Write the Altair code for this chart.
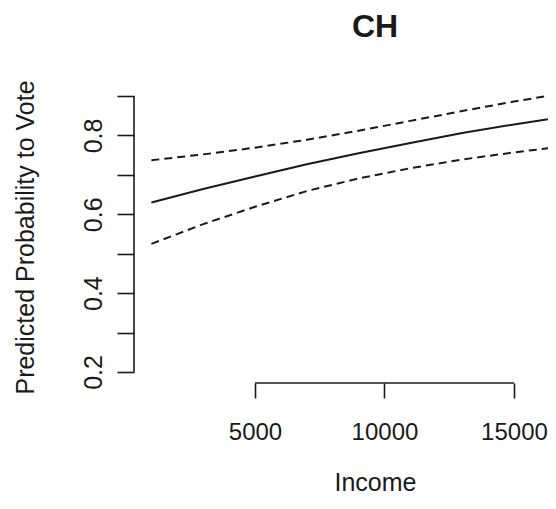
import altair as alt
import pandas as pd

# Values
income = [1000, 3000, 5000, 7000, 9000, 11000, 13000, 15000, 17000, 18000]
fit = [0.630, 0.664, 0.696, 0.727, 0.755, 0.781, 0.806, 0.828, 0.848, 0.857]
upper = [0.737, 0.752, 0.769, 0.789, 0.812, 0.837, 0.862, 0.886, 0.908, 0.918]
lower = [0.525, 0.575, 0.619, 0.659, 0.691, 0.717, 0.739, 0.757, 0.773, 0.780]

x_ticks = [5000, 10000, 15000]
y_ticks = [0.2, 0.3, 0.4, 0.5, 0.6, 0.7, 0.8, 0.9]
y_labels = ["0.2", "0.4", "0.6", "0.8"]
x_domain = [328, 16313]
y_domain = [0.172, 0.928]
title_text = ["CH"]

W, H = 414, 298
FONT = "Liberation Sans"
INK = "#1a1a1a"

fit_df = pd.DataFrame({"income": income, "p": fit})
band_df = pd.concat([
    pd.DataFrame({"income": income, "p": upper, "series": "upper"}),
    pd.DataFrame({"income": income, "p": lower, "series": "lower"}),
])

x_scale = alt.Scale(domain=x_domain, nice=False, zero=False)
y_scale = alt.Scale(domain=y_domain, nice=False, zero=False)

label_test = " || ".join(f"datum.label == '{l}'" for l in y_labels)

x_axis = alt.Axis(
    values=x_ticks, format="d", grid=False, domain=False,
    tickSize=15, tickWidth=1.6, tickColor=INK,
    labelFont=FONT, labelFontSize=24, labelColor=INK, labelPadding=41,
    labelBaseline="alphabetic", labelAngle=0, labelFlush=False, labelOverlap=False,
    title="Income", titleFont=FONT, titleFontSize=25, titleFontWeight="normal",
    titleColor=INK, titleX=241, titleY=107, titleBaseline="alphabetic", titleAlign="center",
)
y_axis = alt.Axis(
    values=y_ticks, format=".1f", grid=False, domain=False,
    labelExpr=f"({label_test}) ? datum.label : ''",
    tickSize=17, tickWidth=1.6, tickColor=INK,
    labelFont=FONT, labelFontSize=25, labelColor=INK, labelPadding=16,
    labelAngle=270, labelAlign="center", labelBaseline="alphabetic", labelOverlap=False,
    labelFlush=False,
    title="Predicted Probability to Vote", titleFont=FONT, titleFontSize=25,
    titleFontWeight="normal", titleColor=INK, titleAngle=270, titleX=-101, titleY=152,
    titleBaseline="alphabetic", titleAlign="center",
)

fit_line = alt.Chart(fit_df).mark_line(clip=True, color=INK, strokeWidth=2).encode(
    x=alt.X("income:Q", scale=x_scale, axis=x_axis),
    y=alt.Y("p:Q", scale=y_scale, axis=y_axis),
)
band_lines = alt.Chart(band_df).mark_line(
    clip=True, color=INK, strokeWidth=2, strokeDash=[8, 5]
).encode(
    x=alt.X("income:Q", scale=x_scale, axis=x_axis),
    y=alt.Y("p:Q", scale=y_scale, axis=y_axis),
    detail="series:N",
)

y_dom = alt.Chart(pd.DataFrame({"p": [y_ticks[0]], "p2": [y_ticks[-1]]})).mark_rule(
    color=INK, strokeWidth=1.6
).encode(
    x=alt.value(0),
    y=alt.Y("p:Q", scale=y_scale, axis=y_axis),
    y2="p2:Q",
)
x_dom = alt.Chart(pd.DataFrame({"income": [x_ticks[0]], "income2": [x_ticks[-1]]})).mark_rule(
    color=INK, strokeWidth=1.6
).encode(
    x=alt.X("income:Q", scale=x_scale, axis=x_axis),
    x2="income2:Q",
    y=alt.value(H),
)

title_mark = alt.Chart(pd.DataFrame({"t": title_text})).mark_text(
    font=FONT, fontSize=32, fontWeight="bold", color=INK,
    align="center", baseline="alphabetic",
).encode(text="t:N", x=alt.value(241), y=alt.value(-48))

chart = alt.layer(fit_line, band_lines, y_dom, x_dom, title_mark).properties(
    width=W, height=H,
    autosize=alt.AutoSizeParams(type="none"),
    padding={"left": 126, "top": 77, "right": 0, "bottom": 113},
).configure_view(stroke=None)

chart.save("out.html", embed_options={"renderer": "svg", "actions": False})
